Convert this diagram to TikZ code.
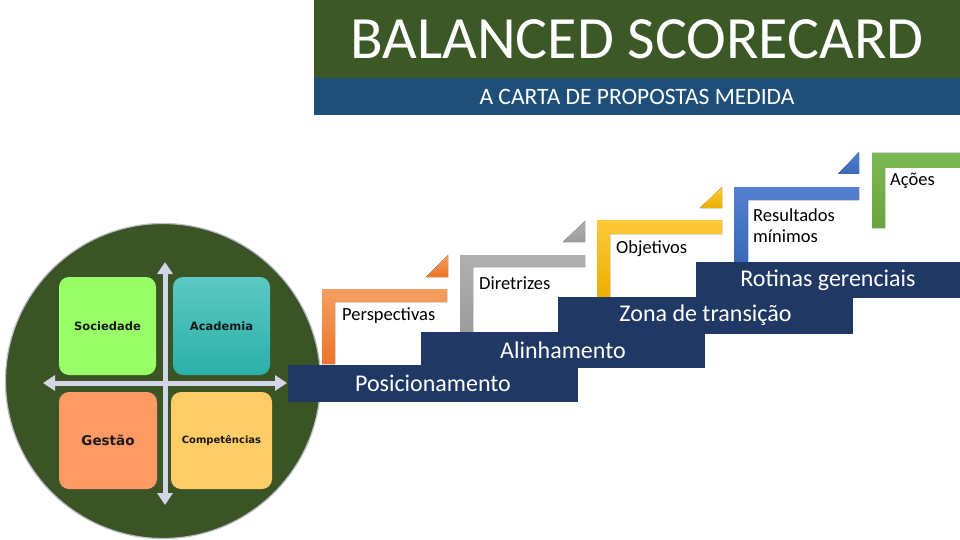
\documentclass[tikz,border=0pt]{standalone}
\usepackage{fontspec}
\setmainfont{Carlito}
\newfontfamily\quadfont{DejaVu Sans}
\usetikzlibrary{arrows.meta,positioning,shapes,calc}
\definecolor{hdrGreen}{HTML}{3B5826}
\definecolor{hdrBlue}{HTML}{1F4E79}
\definecolor{barBlue}{HTML}{1F3864}
\definecolor{discGreen}{HTML}{3A5426}
\definecolor{crossGrey}{HTML}{D3D6E6}
\definecolor{socGreen}{HTML}{99FF66}
\definecolor{acadTop}{HTML}{5CC8C2}
\definecolor{acadBot}{HTML}{2AB0A9}
\definecolor{gestOrange}{HTML}{FF9966}
\definecolor{compYellow}{HTML}{FFCC66}
\definecolor{orTop}{HTML}{F4A060}
\definecolor{orBot}{HTML}{ED7428}
\definecolor{grTop}{HTML}{B0B0B0}
\definecolor{grBot}{HTML}{9C9C9C}
\definecolor{yeTop}{HTML}{FFC83A}
\definecolor{yeBot}{HTML}{EBB000}
\definecolor{blTop}{HTML}{5580D0}
\definecolor{blBot}{HTML}{3A68B8}
\definecolor{gnTop}{HTML}{7CB955}
\definecolor{gnBot}{HTML}{68A540}
\tikzstyle{header}=[fill=hdrGreen, text=white, inner sep=0pt]
\tikzstyle{subheader}=[fill=hdrBlue, text=white, inner sep=0pt]
\tikzstyle{stepBar}=[fill=barBlue, text=white, inner sep=0pt, font=\fontsize{24}{27}\selectfont]
\tikzstyle{stairLabel}=[anchor=west, inner sep=0pt, font=\fontsize{18.5}{21}\selectfont, align=left]
\tikzstyle{quadBox}=[rounded corners=10pt, inner sep=0pt, text=black!90]
\tikzstyle{cross}=[crossGrey, line width=5pt, {Triangle[width=15pt,length=12pt]}-{Triangle[width=15pt,length=12pt]}]
\tikzstyle{stairOrange}=[top color=orTop, bottom color=orBot, draw=none]
\tikzstyle{stairGrey}=[top color=grTop, bottom color=grBot, draw=none]
\tikzstyle{stairYellow}=[top color=yeTop, bottom color=yeBot, draw=none]
\tikzstyle{stairBlue}=[top color=blTop, bottom color=blBot, draw=none]
\tikzstyle{stairGreen}=[top color=gnTop, bottom color=gnBot, draw=none]

\begin{document}
\begin{tikzpicture}[x=1pt, y=-1pt]
  \useasboundingbox (0,0) rectangle (960,540);

  % title block
  \node(title) [header, minimum width=646pt, minimum height=78pt,
    font=\fontsize{60}{64}\selectfont] at (637,39) {BALANCED SCORECARD};
  \node(subtitle) [subheader, minimum width=646pt, minimum height=37pt,
    font=\fontsize{23.5}{26}\selectfont] at (637,97) {A CARTA DE PROPOSTAS MEDIDA};

  % disc with the four quadrants
  \node(disc) [circle, fill=discGreen, draw=crossGrey!70!gray, line width=1.2pt,
    minimum size=315pt] at (163,381) {};
  \node(soc) [quadBox, fill=socGreen, minimum width=97pt, minimum height=98pt,
    font=\quadfont\bfseries\fontsize{11.5}{13}\selectfont] at (107.5,326) {Sociedade};
  \node(acad) [quadBox, top color=acadTop, bottom color=acadBot,
    minimum width=97pt, minimum height=98pt,
    font=\quadfont\bfseries\fontsize{11.5}{13}\selectfont] at (221.5,326) {Academia};
  \node(gest) [quadBox, fill=gestOrange, minimum width=98pt, minimum height=97pt,
    font=\quadfont\bfseries\fontsize{13.5}{15}\selectfont] at (108,440.5) {Gestão};
  \node(comp) [quadBox, fill=compYellow, minimum width=101pt, minimum height=97pt,
    font=\quadfont\bfseries\fontsize{10}{12}\selectfont] at (221.5,440.5) {Competências};
  \coordinate(top) at (165,262);
  \coordinate(bottom) at (165,505);
  \coordinate(left) at (43,383);
  \coordinate(right) at (287,383);
  \draw[cross] (top) -- (bottom);
  \draw[cross] (left) -- (right);

  % stairs
  \fill[stairOrange] (322,289) -- (447,289) -- (447,302) -- (335,302) -- (335,364) -- (322,364) -- cycle;
  \fill[stairOrange] (426,277) -- (448,277) -- (448,255) -- cycle;
  \fill[stairGrey] (460,255) -- (585,255) -- (585,267) -- (473,267) -- (473,332) -- (460,332) -- cycle;
  \fill[stairGrey] (563,242) -- (585,242) -- (585,221) -- cycle;
  \fill[stairYellow] (597,220) -- (722,220) -- (722,234) -- (610,234) -- (610,297) -- (597,297) -- cycle;
  \fill[stairYellow] (700,208) -- (722,208) -- (722,187) -- cycle;
  \fill[stairBlue] (734,187) -- (859,187) -- (859,200) -- (748,200) -- (748,263) -- (734,263) -- cycle;
  \fill[stairBlue] (838,174) -- (859,174) -- (859,152) -- cycle;
  \fill[stairGreen] (872,153) -- (960,153) -- (960,168) -- (885,168) -- (885,228) -- (872,228) -- cycle;

  \node(persp) [stairLabel] at (342,316) {Perspectivas};
  \node(dir) [stairLabel] at (479,283) {Diretrizes};
  \node(obj) [stairLabel] at (616,249) {Objetivos};
  \node(res) [stairLabel] at (753,226) {Resultados\\mínimos};
  \node(acoes) [stairLabel] at (890,181) {Ações};

  % blue steps
  \node(pos) [stepBar, minimum width=290pt, minimum height=37pt] at (433,383.5) {Posicionamento};
  \node(alin) [stepBar, minimum width=284pt, minimum height=36pt] at (563,350) {Alinhamento};
  \node(zona) [stepBar, minimum width=295pt, minimum height=37pt] at (705.5,315) {Zona de transição};
  \node(rot) [stepBar, minimum width=264pt, minimum height=36pt] at (828,280) {Rotinas gerenciais};
\end{tikzpicture}
\end{document}
